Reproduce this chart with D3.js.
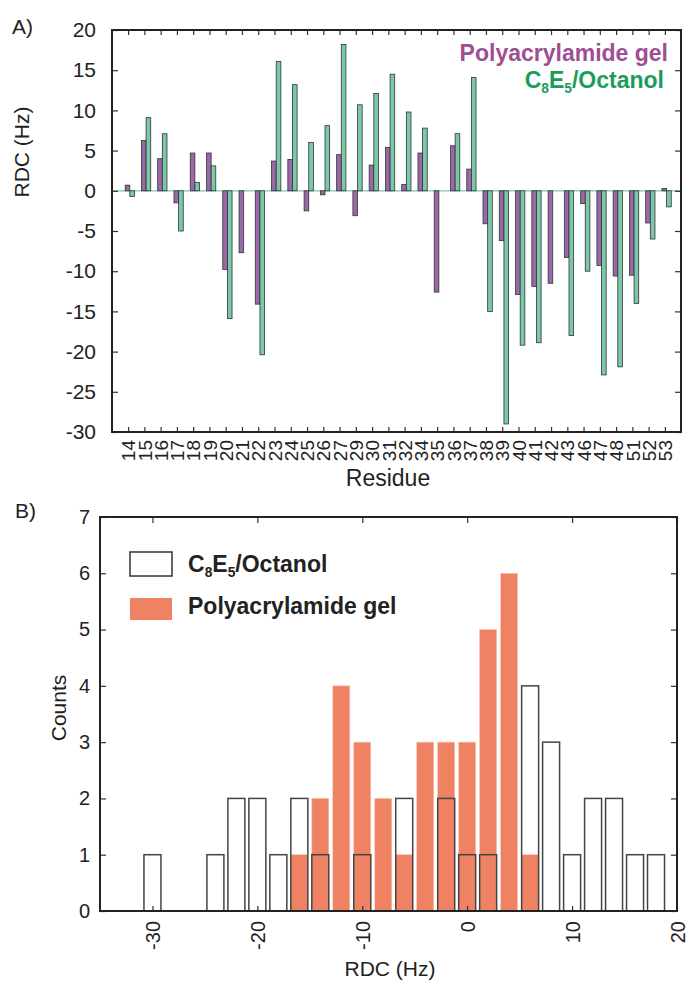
<!DOCTYPE html>
<html>
<head>
<meta charset="utf-8">
<script src="https://cdn.jsdelivr.net/npm/d3@7"></script>
<style>
  body { margin: 0; background: #fff; }
  svg { font-family: "Liberation Sans", Arial, sans-serif; }
  .tick line { stroke: #333; stroke-width: 1.2px; }
</style>
</head>
<body>
<div id="chart"></div>
<script>
// Panel A: RDC per residue
const residues = ["14","15","16","17","18","19","20","21","22","23","24","25","26","27","29","30","31","32",
                  "34","35","36","37","38","39","40","41","42","43","46","47","48","51","52","53"];
const gelRdc = [0.7, 6.25, 4.0, -1.5, 4.7, 4.7, -9.8, -7.7, -14.1, 3.7, 3.9, -2.5, -0.5, 4.5, -3.1, 3.2, 5.4, 0.8,
                4.7, -12.6, 5.6, 2.7, -4.1, -6.2, -12.9, -11.9, -11.5, -8.3, -1.6, -9.3, -10.6, -10.5, -4.0, 0.3];
const octRdc = [-0.7, 9.1, 7.1, -5.0, 1.05, 3.1, -15.9, 0, -20.4, 16.1, 13.2, 6.0, 8.1, 18.2, 10.7, 12.1, 14.5, 9.8,
                7.8, 0, 7.1, 14.1, -15.0, -29.0, -19.2, -18.9, 0, -18.0, -10.0, -22.9, -21.9, -14.0, -6.0, -2.0];
const rdcTicks = [-30, -25, -20, -15, -10, -5, 0, 5, 10, 15, 20];

// Panel B: histogram of RDCs (2 Hz bins)
const binCenters = [-30,-28,-26,-24,-22,-20,-18,-16,-14,-12,-10,-8,-6,-4,-2,0,2,4,6,8,10,12,14,16,18];
const octCounts  = [1,0,0,1,2,2,1,2,1,0,1,0,2,0,2,1,1,0,4,3,1,2,2,1,1];
const gelCounts  = [0,0,0,0,0,0,0,1,2,4,3,2,1,3,3,3,5,6,1,0,0,0,0,0,0];
const histXTicks = [-30, -20, -10, 0, 10, 20];
const countTicks = [0, 1, 2, 3, 4, 5, 6, 7];

const purple = "#9a68a8", green = "#7bc8a9", orange = "#f08264";
const purpleText = "#9e4e93", greenText = "#1c9c5a";
const plain = d => String(d);   // keep ASCII hyphen as in the original

const svg = d3.select("#chart").append("svg")
    .attr("width", 689).attr("height", 989);

// ---------- Panel A ----------
const A = { left: 112, right: 681, top: 30, bottom: 432 };

const x = d3.scaleBand().domain(residues).range([A.left, A.right]).paddingOuter(0.49).paddingInner(0);
const step = x.step();
const sub = d3.scaleBand().domain(["gel", "oct"]).range([-0.18 * step, 0.39 * step]);
const y = d3.scaleLinear().domain([-30, 20]).range([A.bottom, A.top]);

const gA = svg.append("g");

// zero line
gA.append("line")
    .attr("x1", A.left).attr("x2", A.right)
    .attr("y1", y(0)).attr("y2", y(0))
    .attr("stroke", green).attr("stroke-width", 1.2);

const rows = residues.map((r, i) => ({ r, gel: gelRdc[i], oct: octRdc[i] }));
const cx = r => x(r) + step / 2;

gA.selectAll(".gel").data(rows).enter().append("rect")
    .attr("x", d => cx(d.r) + sub("gel"))
    .attr("width", sub.bandwidth())
    .attr("y", d => y(Math.max(0, d.gel)))
    .attr("height", d => Math.abs(y(d.gel) - y(0)))
    .attr("fill", purple).attr("stroke", "#333").attr("stroke-width", 0.8);

gA.selectAll(".oct").data(rows).enter().append("rect")
    .attr("x", d => cx(d.r) + sub("oct"))
    .attr("width", sub.bandwidth())
    .attr("y", d => y(Math.max(0, d.oct)))
    .attr("height", d => Math.abs(y(d.oct) - y(0)))
    .attr("fill", green).attr("stroke", "#333").attr("stroke-width", 0.8);

// axes (inward ticks)
const xPoint = d3.scalePoint().domain(residues).range([cx(residues[0]), cx(residues[residues.length - 1])]);

gA.append("g").attr("transform", `translate(0,${A.bottom})`)
    .call(d3.axisBottom(xPoint).tickSize(-5).tickPadding(0))
    .call(g => g.select(".domain").remove())
    .selectAll("text")
    .attr("transform", "rotate(-90)")
    .attr("text-anchor", "end")
    .attr("x", -8).attr("y", 0).attr("dy", "0.35em")
    .style("font-size", "19px").attr("fill", "#222");

gA.append("g").attr("transform", `translate(0,${A.top})`)
    .call(d3.axisTop(xPoint).tickSize(-5).tickFormat(""))
    .call(g => g.select(".domain").remove());

gA.append("g").attr("transform", `translate(${A.left},0)`)
    .call(d3.axisLeft(y).tickValues(rdcTicks).tickFormat(plain).tickSize(-6).tickPadding(16))
    .call(g => g.select(".domain").remove())
    .selectAll("text").style("font-size", "21px").attr("fill", "#222");

gA.append("g").attr("transform", `translate(${A.right},0)`)
    .call(d3.axisRight(y).tickValues(rdcTicks).tickSize(-6).tickFormat(""))
    .call(g => g.select(".domain").remove());

gA.append("rect")
    .attr("x", A.left).attr("y", A.top)
    .attr("width", A.right - A.left).attr("height", A.bottom - A.top)
    .attr("fill", "none").attr("stroke", "#222").attr("stroke-width", 2);

gA.append("text").attr("x", 12).attr("y", 34).style("font-size", "21px").attr("fill", "#222").text("A)");

gA.append("text")
    .attr("transform", "translate(29,152) rotate(-90)")
    .attr("text-anchor", "middle")
    .style("font-size", "21px").attr("fill", "#222")
    .text("RDC (Hz)");

gA.append("text")
    .attr("x", 388).attr("y", 486)
    .attr("text-anchor", "middle")
    .style("font-size", "23px").attr("fill", "#222")
    .text("Residue");

// legend A
gA.append("text")
    .attr("x", 668).attr("y", 61)
    .attr("text-anchor", "end")
    .style("font-size", "23px").style("font-weight", "bold")
    .attr("fill", purpleText)
    .text("Polyacrylamide gel");

function c8e5(sel, size) {
    sel.append("tspan").text("C");
    sel.append("tspan").text("8").style("font-size", size * 0.6 + "px").attr("dy", size * 0.22);
    sel.append("tspan").text("E").attr("dy", -size * 0.22);
    sel.append("tspan").text("5").style("font-size", size * 0.6 + "px").attr("dy", size * 0.22);
    sel.append("tspan").text("/Octanol").attr("dy", -size * 0.22);
}

gA.append("text")
    .attr("x", 664).attr("y", 88)
    .attr("text-anchor", "end")
    .style("font-size", "23px").style("font-weight", "bold")
    .attr("fill", greenText)
    .call(s => c8e5(s, 23));

// ---------- Panel B ----------
const B = { left: 100, right: 677, top: 517, bottom: 911 };
const xb = d3.scaleLinear().domain([-35, 20]).range([B.left, B.right]);
const yb = d3.scaleLinear().domain([0, 7]).range([B.bottom, B.top]);
const barW = xb(1.62) - xb(0);

const gB = svg.append("g");
const hist = binCenters.map((c, i) => ({ c, oct: octCounts[i], gel: gelCounts[i] }));

gB.selectAll(".gelbar").data(hist.filter(d => d.gel > 0)).enter().append("rect")
    .attr("x", d => xb(d.c) - barW / 2)
    .attr("width", barW)
    .attr("y", d => yb(d.gel))
    .attr("height", d => yb(0) - yb(d.gel))
    .attr("fill", orange).attr("stroke", "#f7c4b6").attr("stroke-width", 0.6);

gB.selectAll(".octbar").data(hist.filter(d => d.oct > 0)).enter().append("rect")
    .attr("x", d => xb(d.c) - barW / 2)
    .attr("width", barW)
    .attr("y", d => yb(d.oct))
    .attr("height", d => yb(0) - yb(d.oct))
    .attr("fill", "none").attr("stroke", "#444").attr("stroke-width", 1.5);

gB.append("g").attr("transform", `translate(0,${B.bottom})`)
    .call(d3.axisBottom(xb).tickValues(histXTicks).tickFormat(plain).tickSize(-5).tickPadding(0))
    .call(g => g.select(".domain").remove())
    .selectAll("text")
    .attr("transform", "rotate(-90)")
    .attr("text-anchor", "end")
    .attr("x", -10).attr("y", 0).attr("dy", "0.35em")
    .style("font-size", "20px").attr("fill", "#222");

gB.append("g").attr("transform", `translate(0,${B.top})`)
    .call(d3.axisTop(xb).tickValues(histXTicks).tickSize(-6).tickFormat(""))
    .call(g => g.select(".domain").remove());

gB.append("g").attr("transform", `translate(${B.left},0)`)
    .call(d3.axisLeft(yb).tickValues(countTicks).tickFormat(plain).tickSize(-6).tickPadding(10))
    .call(g => g.select(".domain").remove())
    .selectAll("text").style("font-size", "20px").attr("fill", "#222");

gB.append("g").attr("transform", `translate(${B.right},0)`)
    .call(d3.axisRight(yb).tickValues(countTicks).tickSize(-6).tickFormat(""))
    .call(g => g.select(".domain").remove());

gB.append("rect")
    .attr("x", B.left).attr("y", B.top)
    .attr("width", B.right - B.left).attr("height", B.bottom - B.top)
    .attr("fill", "none").attr("stroke", "#222").attr("stroke-width", 2);

gB.append("text").attr("x", 15).attr("y", 518).style("font-size", "21px").attr("fill", "#222").text("B)");

gB.append("text")
    .attr("transform", "translate(66,708) rotate(-90)")
    .attr("text-anchor", "middle")
    .style("font-size", "21px").attr("fill", "#222")
    .text("Counts");

gB.append("text")
    .attr("x", 390).attr("y", 976)
    .attr("text-anchor", "middle")
    .style("font-size", "21px").attr("fill", "#222")
    .text("RDC (Hz)");

// legend B
gB.append("rect").attr("x", 130).attr("y", 552).attr("width", 42).attr("height", 24)
    .attr("fill", "none").attr("stroke", "#333").attr("stroke-width", 1.5);
gB.append("text").attr("x", 188).attr("y", 572)
    .style("font-size", "23px").style("font-weight", "bold").attr("fill", "#222")
    .call(s => c8e5(s, 23));

gB.append("rect").attr("x", 130).attr("y", 598).attr("width", 42).attr("height", 22)
    .attr("fill", orange);
gB.append("text").attr("x", 188).attr("y", 614)
    .style("font-size", "23px").style("font-weight", "bold").attr("fill", "#222")
    .text("Polyacrylamide gel");
</script>
</body>
</html>
